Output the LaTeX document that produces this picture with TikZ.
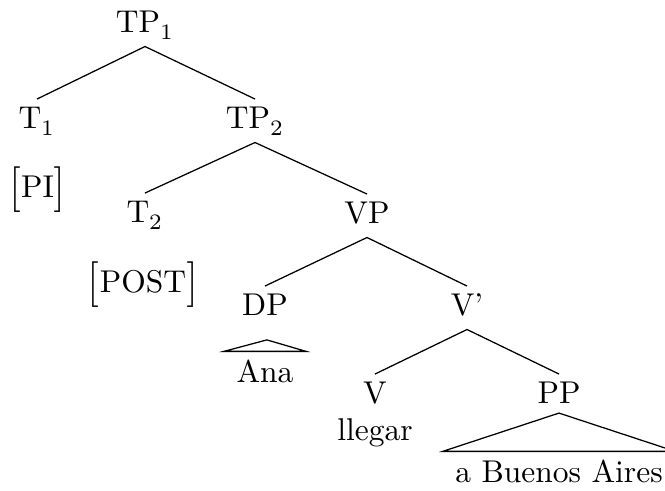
\documentclass[tikz,border=0pt]{standalone}
\usepackage{unicode-math}
\newcommand{\featbox}[1]{$\left[\rule[-4.5pt]{0pt}{14pt}\mbox{#1}\right]$}
\begin{document}
\begin{tikzpicture}[x=0.3175pt,y=-0.3175pt,
  cat/.style={anchor=base,inner sep=2pt,text height=7pt,text depth=2.4pt},
  feat/.style={anchor=base,inner sep=0pt},
  leaf/.style={anchor=base,inner xsep=3.8pt,inner ysep=2.7pt,text height=6.83pt}]
\useasboundingbox (0,0) rectangle (665,490);
% categories
\node[cat] (tp1) at (145,32) {TP$_1$};
\node[cat] (t1) at (37,128) {T$_1$};
\node[cat] (tp2) at (255,128) {TP$_2$};
\node[cat] (t2) at (145,222) {T$_2$};
\node[cat] (vp) at (367,223) {VP};
\node[cat] (dp) at (265,315) {DP};
\node[cat] (vbar) at (467,315) {V'};
\node[cat] (v) at (375,403) {V};
\node[cat] (pp) at (559,403) {PP};
% features and words
\node[feat] (pi) at (37.5,197) {\featbox{PI}};
\node[feat] (post) at (143,292) {\featbox{POST}};
\node[leaf] (ana) at (265,382) {Ana};
\node[feat] (llegar) at (375,440) {llegar};
\node[leaf] (aba) at (559,482) {a Buenos Aires};
\foreach \a/\b in {tp1/t1,tp1/tp2,tp2/t2,tp2/vp,vp/dp,vp/vbar,vbar/v,vbar/pp}
  \draw (\a.south) -- (\b.north);
% roofs
\coordinate (dproof) at ([xshift=0.6pt,yshift=-7.9pt]dp.base);
\coordinate (pproof) at ([yshift=-3.2pt]pp.base);
\draw (dproof) -- (ana.north west) -- (ana.north east) -- cycle;
\draw (pproof) -- (aba.north west) -- (aba.north east) -- cycle;
\end{tikzpicture}
\end{document}
